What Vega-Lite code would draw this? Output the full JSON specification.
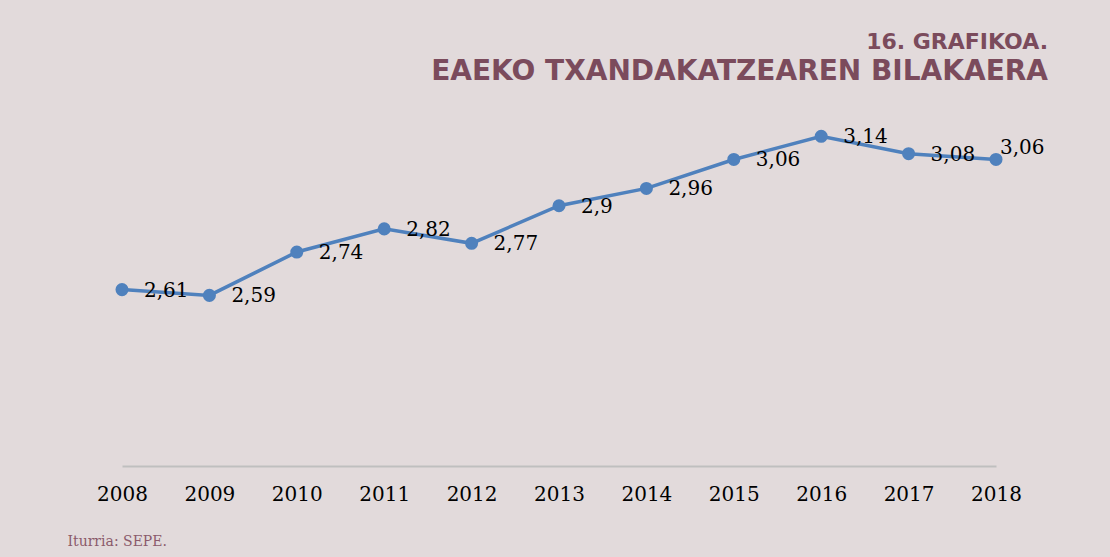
{
  "$schema": "https://vega.github.io/schema/vega-lite/v6.json",
  "width": 874,
  "height": 347,
  "autosize": {"type": "none"},
  "padding": {"left": 122, "top": 119, "right": 114, "bottom": 91},
  "background": "#e2dadb",
  "title": {
    "text": "16. GRAFIKOA.",
    "subtitle": "EAEKO TXANDAKATZEAREN BILAKAERA",
    "anchor": "end",
    "frame": "group",
    "dx": 52,
    "offset": 32,
    "font": "DejaVu Sans",
    "fontSize": 22,
    "fontWeight": "bold",
    "color": "#7b4b5c",
    "subtitleFont": "DejaVu Sans",
    "subtitleFontSize": 28,
    "subtitleFontWeight": "bold",
    "subtitleColor": "#7b4b5c",
    "subtitlePadding": 4
  },
  "data": {
    "values": [
      {"year": "2008", "value": 2.61, "label": "2,61"},
      {"year": "2009", "value": 2.59, "label": "2,59"},
      {"year": "2010", "value": 2.74, "label": "2,74"},
      {"year": "2011", "value": 2.82, "label": "2,82"},
      {"year": "2012", "value": 2.77, "label": "2,77"},
      {"year": "2013", "value": 2.9, "label": "2,9"},
      {"year": "2014", "value": 2.96, "label": "2,96"},
      {"year": "2015", "value": 3.06, "label": "3,06"},
      {"year": "2016", "value": 3.14, "label": "3,14"},
      {"year": "2017", "value": 3.08, "label": "3,08"},
      {"year": "2018", "value": 3.06, "label": "3,06"}
    ]
  },
  "encoding": {
    "x": {
      "field": "year",
      "type": "ordinal",
      "scale": {"type": "point", "padding": 0},
      "axis": {
        "title": "Iturria: SEPE.",
        "titleFont": "DejaVu Serif",
        "titleFontSize": 14,
        "titleFontWeight": "normal",
        "titleColor": "#8b5a6b",
        "titleAnchor": "start",
        "titleAlign": "left",
        "titleBaseline": "alphabetic",
        "titleX": -55,
        "titleY": 79,
        "labelAngle": 0,
        "labelFont": "DejaVu Serif",
        "labelFontSize": 20,
        "labelColor": "#000000",
        "labelPadding": 18,
        "ticks": false,
        "grid": false,
        "domainColor": "#bfbfbf",
        "domainWidth": 2
      }
    },
    "y": {
      "field": "value",
      "type": "quantitative",
      "scale": {"domain": [2, 3.2], "zero": false},
      "axis": null
    }
  },
  "layer": [
    {
      "mark": {"type": "line", "color": "#4f81bd", "strokeWidth": 3.5}
    },
    {
      "mark": {"type": "circle", "color": "#4f81bd", "opacity": 1, "size": 170}
    },
    {
      "transform": [{"filter": "datum.year != '2018'"}],
      "mark": {
        "type": "text",
        "align": "left",
        "baseline": "middle",
        "dx": 22,
        "dy": 1,
        "font": "DejaVu Serif",
        "fontSize": 20,
        "color": "#000000"
      },
      "encoding": {"text": {"field": "label"}}
    },
    {
      "transform": [{"filter": "datum.year == '2018'"}],
      "mark": {
        "type": "text",
        "align": "left",
        "baseline": "middle",
        "dx": 4,
        "dy": -11,
        "font": "DejaVu Serif",
        "fontSize": 20,
        "color": "#000000"
      },
      "encoding": {"text": {"field": "label"}}
    }
  ],
  "config": {
    "view": {"stroke": null}
  }
}
